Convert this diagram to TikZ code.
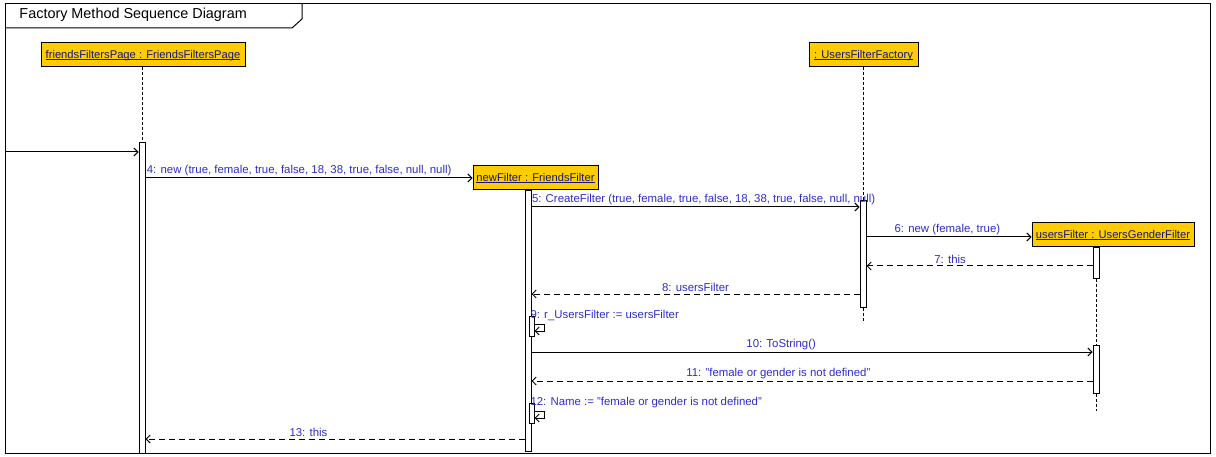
\documentclass[tikz,border=0pt]{standalone}
\usepackage{fontspec}
\setmainfont{Liberation Sans}
\usetikzlibrary{arrows.meta}
\definecolor{objfill}{RGB}{255,204,0}
\definecolor{objtext}{RGB}{20,20,130}
\definecolor{msgblue}{RGB}{45,45,200}
\tikzset{
  object/.style={draw, fill=objfill, text=objtext, inner sep=0pt, minimum height=24pt,
    font=\fontsize{11.2}{11.2}\selectfont},
  actbar/.style={draw, fill=white, inner sep=0pt, minimum width=6pt, anchor=north},
  selfbar/.style={actbar, minimum width=5pt, minimum height=20pt},
  lifeline/.style={dash pattern=on 3pt off 2pt},
  call/.style={-{Straight Barb[length=4pt,width=8pt]}},
  reply/.style={call, dash pattern=on 6pt off 4pt},
  msg/.style={text=msgblue, font=\fontsize{11.4}{11.4}\selectfont, inner sep=1.5pt}
}
\begin{document}
\begin{tikzpicture}[x=1pt, y=-1pt, line width=1pt]
\useasboundingbox (0,0) rectangle (1216,457);
% frame
  \draw (5,4) rectangle (1210,453);
  \draw (5,28) -- (292,28) -- (302,19) -- (302,4);
  \node (title) at (19,15) [anchor=west, inner sep=0pt, font=\fontsize{14.4}{14.4}\selectfont] {Factory Method Sequence Diagram};

% objects
  \node (page) at (143,55) [object, minimum width=204pt] {\underbar{friendsFiltersPage : FriendsFiltersPage}};
  \node (factory) at (863.5,55) [object, minimum width=109pt] {\underbar{: UsersFilterFactory}};
  \node (filter) at (535.5,178) [object, minimum width=125pt] {\underbar{newFilter : FriendsFilter}};
  \node (gender) at (1113,235) [object, minimum width=162pt] {\underbar{usersFilter : UsersGenderFilter}};

% bars
  \node (pagebar) at (142,142) [actbar, minimum height=311pt] {};
  \node (filterbar) at (528,190) [actbar, minimum height=261pt] {};
  \node (factorybar) at (863,200) [actbar, minimum height=107pt] {};
  \node (genderbar) at (1096,247) [actbar, minimum height=31pt] {};
  \node (genderbar2) at (1096,345) [actbar, minimum height=48pt] {};
  \node (self9) at (531.5,316) [selfbar] {};
  \node (self12) at (531.5,403) [selfbar] {};

% lifelines
  \draw [lifeline] (pagebar.north |- page.south) -- (pagebar.north);
  \draw [lifeline] (factorybar.north |- factory.south) -- (factorybar.north);
  \draw [lifeline] (factorybar.south) -- ++(0,15);
  \draw [lifeline] (genderbar.south) -- (genderbar2.north);
  \draw [lifeline] (genderbar2.south) -- ++(0,17);

% message levels
  \coordinate (entry) at (5,152);
  \coordinate (m4) at (0,178);
  \coordinate (m5) at (0,207);
  \coordinate (m6) at (0,237);
  \coordinate (m7) at (0,266);
  \coordinate (m8) at (0,294);
  \coordinate (m10) at (0,352);
  \coordinate (m11) at (0,381);
  \coordinate (m13) at (0,439);

% messages
  \draw [call] (entry) -- (pagebar.west |- entry);
  \draw [call] (pagebar.east |- m4) -- (filter.west |- m4)
    node [msg, above, pos=0.47] {4: new (true, female, true, false, 18, 38, true, false, null, null)};
  \draw [call] (filterbar.east |- m5) -- (factorybar.west |- m5)
    node [msg, above right, pos=0, inner xsep=0pt] {5: CreateFilter (true, female, true, false, 18, 38, true, false, null, null)};
  \draw [call] (factorybar.east |- m6) -- (gender.west |- m6)
    node [msg, above, pos=0.49] {6: new (female, true)};
  \draw [reply] (genderbar.west |- m7) -- (factorybar.east |- m7)
    node [msg, above, pos=0.63] {7: this};
  \draw [reply] (factorybar.west |- m8) -- (filterbar.east |- m8)
    node [msg, above, pos=0.5] {8: usersFilter};
  \draw [call] (self9.east |- 0,324) -- ++(10,0) |- (self9.east |- 0,331);
  \node (l9) at (self9.north west) [msg, anchor=west] {9: r\_UsersFilter := usersFilter};
  \draw [call] (filterbar.east |- m10) -- (genderbar2.west |- m10)
    node [msg, above, pos=0.445] {10: ToString()};
  \draw [reply] (genderbar2.west |- m11) -- (filterbar.east |- m11)
    node [msg, above, pos=0.56] {11: "female or gender is not defined"};
  \draw [call] (self12.east |- 0,411) -- ++(10,0) |- (self12.east |- 0,418);
  \node (l12) at (self12.north west) [msg, anchor=west] {12: Name := "female or gender is not defined"};
  \draw [reply] (filterbar.west |- m13) -- (pagebar.east |- m13)
    node [msg, above, pos=0.57] {13: this};
\end{tikzpicture}
\end{document}
